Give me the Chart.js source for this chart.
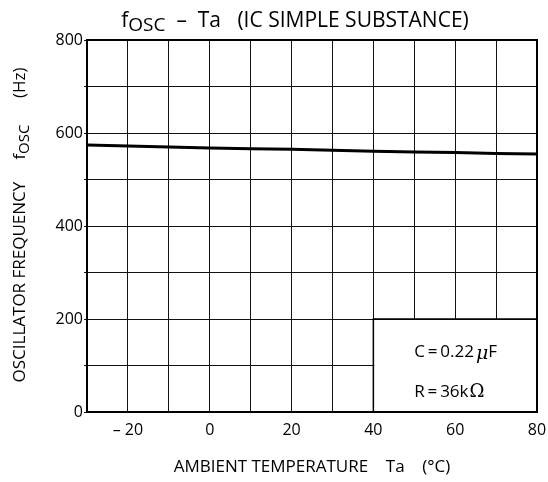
<!DOCTYPE html>
<html>
<head>
<meta charset="utf-8">
<script src="https://cdn.jsdelivr.net/npm/chart.js@4"></script>
<style>
  body { margin: 0; background: #fff; }
  #wrap { width: 548px; height: 482px; }
</style>
</head>
<body>
<div id="wrap"><canvas id="myChart"></canvas></div>
<script>
// temperature (°C) and oscillator frequency (Hz)
const temps = [-30, -20, -10, 0, 10, 20, 30, 40, 50, 60, 70, 80];
const freqs = [574, 572, 570, 568, 566, 565, 563, 561, 559, 558, 556, 555];
const xTicks = [-20, 0, 20, 40, 60, 80];
const yTicks = [0, 200, 400, 600, 800];
const notes = ['C\u2009=\u20090.22', 'R\u2009=\u200936k'];

const FONT = '"Open Sans", sans-serif';

// lower right box with C / R values (no grid inside)
const noteBox = {
    id: 'noteBox',
    beforeDatasetsDraw(chart) {
        const x = chart.scales.x, y = chart.scales.y;
        const ctx = chart.ctx;
        const l = x.getPixelForValue(40), r = x.getPixelForValue(80);
        const t = y.getPixelForValue(200), b = y.getPixelForValue(0);
        ctx.save();
        ctx.fillStyle = '#fff';
        ctx.fillRect(l + 1, t + 1, r - l - 2, b - t - 2);
        ctx.restore();
    },
    afterDraw(chart) {
        const x = chart.scales.x, y = chart.scales.y;
        const ctx = chart.ctx;
        const sx = x.getPixelForValue(50);
        ctx.save();
        ctx.fillStyle = '#000';
        ctx.textBaseline = 'middle';
        ctx.textAlign = 'left';
        // C = 0.22 μF
        ctx.font = '17px ' + FONT;
        let yy = y.getPixelForValue(129);
        let w1 = ctx.measureText(notes[0]).width;
        ctx.fillText(notes[0], sx, yy);
        ctx.font = 'italic 19px "DejaVu Serif", serif';
        let wm = ctx.measureText('\u03BC').width;
        ctx.fillText('\u03BC', sx + w1 + 2, yy + 2);
        ctx.font = '17px ' + FONT;
        ctx.fillText('F', sx + w1 + wm + 2, yy);
        // R = 36kΩ
        yy = y.getPixelForValue(43);
        w1 = ctx.measureText(notes[1]).width;
        ctx.fillText(notes[1], sx, yy);
        ctx.font = '18px "DejaVu Serif", serif';
        ctx.fillText('\u03A9', sx + w1 + 1, yy);

        // plot border
        const a = chart.chartArea;
        ctx.strokeStyle = '#000';
        ctx.lineWidth = 2;
        ctx.strokeRect(a.left, a.top, a.right - a.left, a.bottom - a.top);
        // box edges
        const l = x.getPixelForValue(40), r = x.getPixelForValue(80);
        const t = y.getPixelForValue(200), b = y.getPixelForValue(0);
        ctx.lineWidth = 1.5;
        ctx.beginPath();
        ctx.moveTo(l, b); ctx.lineTo(l, t); ctx.lineTo(r, t);
        ctx.stroke();
        ctx.restore();
    }
};

// titles with subscripts
const titles = {
    id: 'titles',
    afterDraw(chart) {
        const ctx = chart.ctx;
        const a = chart.chartArea;
        ctx.save();
        ctx.fillStyle = '#000';
        ctx.textBaseline = 'alphabetic';
        ctx.textAlign = 'left';

        function sub(parts, x0, y0) {
            // parts: [text, size, dy]
            let w = 0;
            parts.forEach(p => { ctx.font = p[1] + 'px ' + FONT; w += ctx.measureText(p[0]).width; });
            let x = x0 - w / 2;
            parts.forEach(p => {
                ctx.font = p[1] + 'px ' + FONT;
                ctx.fillText(p[0], x, y0 + p[2]);
                x += ctx.measureText(p[0]).width;
            });
        }

        // main title
        sub([['f', 21, 0], ['OSC', 19, 4], ['  \u2013  Ta   (IC SIMPLE SUBSTANCE)', 21, 0]], 295, 27);

        // x axis title
        sub([['AMBIENT TEMPERATURE    Ta    (\u00B0C)', 17, 0]], (a.left + a.right) / 2, 472);

        // y axis title, rotated
        ctx.translate(25, 225);
        ctx.rotate(-Math.PI / 2);
        sub([['OSCILLATOR FREQUENCY     f', 17, 0], ['OSC', 15, 4], ['      (Hz)', 17, 0]], 0, 0);
        ctx.restore();
    }
};

new Chart(document.getElementById('myChart'), {
    type: 'line',
    data: {
        datasets: [{
            data: temps.map((t, i) => ({ x: t, y: freqs[i] })),
            borderColor: '#000',
            borderWidth: 3,
            pointRadius: 0,
            tension: 0
        }]
    },
    options: {
        responsive: true,
        maintainAspectRatio: false,
        animation: false,
        layout: { padding: { left: 0, right: 11, top: 40, bottom: 0 } },
        plugins: { legend: { display: false }, tooltip: { enabled: false } },
        scales: {
            x: {
                type: 'linear',
                min: -30, max: 80,
                border: { display: false },
                grid: { color: '#111', lineWidth: 1, drawTicks: false },
                afterFit: s => { s.height = 70; s.paddingRight = 0; s.paddingLeft = 0; },
                ticks: {
                    stepSize: 10,
                    padding: 9,
                    color: '#000',
                    font: { family: FONT, size: 16 },
                    callback: v => xTicks.includes(v) ? (v < 0 ? '\u2013 ' + Math.abs(v) : String(v)) : ''
                }
            },
            y: {
                min: 0, max: 800,
                border: { display: false },
                grid: { color: '#111', lineWidth: 1, drawTicks: true, tickLength: 3 },
                afterFit: s => { s.width = 87; s.paddingTop = 0; s.paddingBottom = 0; },
                ticks: {
                    stepSize: 100,
                    padding: 1,
                    color: '#000',
                    font: { family: FONT, size: 16 },
                    callback: v => yTicks.includes(v) ? String(v) : ''
                }
            }
        }
    },
    plugins: [noteBox, titles]
});
</script>
</body>
</html>
